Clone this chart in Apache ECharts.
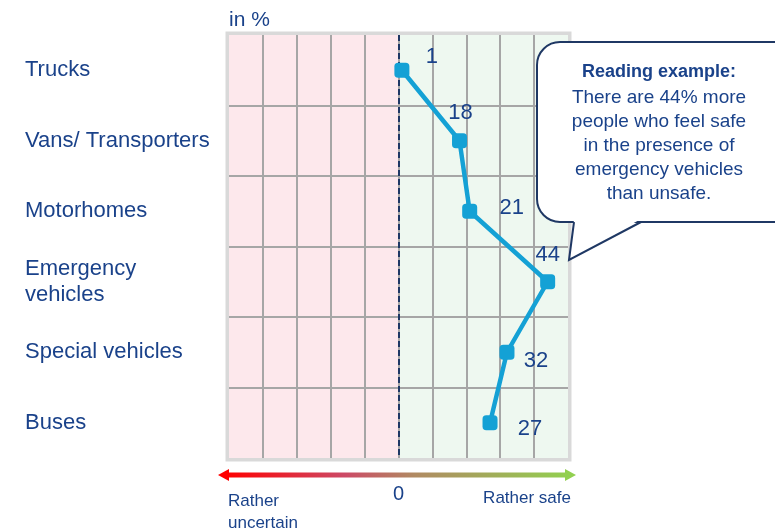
<!DOCTYPE html>
<html>
<head>
<meta charset="utf-8">
<script src="https://cdn.jsdelivr.net/npm/echarts@6/dist/echarts.min.js"></script>
<style>
  html, body { margin: 0; padding: 0; background: #fff; }
  #chart { width: 775px; height: 531px; }
</style>
</head>
<body>
<div id="chart"></div>
<script>
// vehicle types, top to bottom
const categories = ['Trucks', 'Vans/ Transporters', 'Motorhomes', 'Emergency\nvehicles', 'Special vehicles', 'Buses'];
// net share feeling safe, in %
const values = [1, 18, 21, 44, 32, 27];
// x axis range and step
const xMin = -50;
const xMax = 50;
const xStep = 10;
// where each value label sits relative to its marker
const labelOffsets = [[30, -13], [1, -28], [42, -3], [0, -27], [29, 9], [40, 6]];

const FONT = '"Liberation Sans", Arial, sans-serif';
const BLUE = '#1a428a';

const chart = echarts.init(document.getElementById('chart'));

const bubbleLines = [
  'There are 44% more',
  'people who feel safe',
  'in the presence of',
  'emergency vehicles',
  'than unsafe.'
];

chart.setOption({
  animation: false,
  backgroundColor: '#fff',
  textStyle: { fontFamily: FONT },
  title: {
    text: 'in %',
    left: 224,
    top: 5,
    textStyle: { fontFamily: FONT, fontSize: 21, fontWeight: 'normal', color: BLUE }
  },
  grid: {
    left: 229,
    right: 207,
    top: 35,
    bottom: 73,
    show: true,
    borderColor: '#d9d9d9',
    borderWidth: 7
  },
  xAxis: {
    type: 'value',
    min: xMin,
    max: xMax,
    interval: xStep,
    z: 0,
    axisLine: { show: false },
    axisTick: { show: false },
    axisLabel: {
      margin: 26,
      fontSize: 20,
      color: BLUE,
      fontFamily: FONT,
      formatter: v => (v === 0 ? '0' : '')
    },
    splitLine: {
      show: true,
      showMinLine: false,
      showMaxLine: false,
      lineStyle: { color: '#a6a6a6', width: 2 }
    },
    splitArea: {
      show: true,
      areaStyle: {
        color: ['#fde8ec', '#fde8ec', '#fde8ec', '#fde8ec', '#fde8ec',
                '#eef8f0', '#eef8f0', '#eef8f0', '#eef8f0', '#eef8f0']
      }
    }
  },
  yAxis: {
    type: 'category',
    inverse: true,
    data: categories,
    z: 1,
    axisLine: { show: false },
    axisTick: { show: false },
    axisLabel: {
      align: 'left',
      margin: 204,
      fontSize: 22,
      lineHeight: 26,
      color: BLUE,
      fontFamily: FONT
    },
    splitLine: {
      show: true,
      interval: 0,
      showMinLine: false,
      showMaxLine: false,
      lineStyle: { color: '#a6a6a6', width: 2 }
    }
  },
  series: [{
    type: 'line',
    data: values.map((v, i) => ({
      value: v,
      label: { offset: labelOffsets[i] }
    })),
    lineStyle: { color: '#14a1d5', width: 4.5 },
    itemStyle: { color: '#14a1d5' },
    symbol: 'roundRect',
    symbolSize: 15,
    z: 5,
    label: {
      show: true,
      position: 'inside',
      align: 'center',
      verticalAlign: 'middle',
      fontSize: 22,
      color: BLUE,
      fontFamily: FONT
    },
    markLine: {
      silent: true,
      symbol: 'none',
      label: { show: false },
      lineStyle: { color: '#1f3864', width: 2, type: [6, 3] },
      data: [{ xAxis: 0 }]
    }
  }],
  graphic: [
    // gradient arrow under the plot
    {
      type: 'line',
      shape: { x1: 226, y1: 475, x2: 568, y2: 475 },
      style: {
        lineWidth: 5,
        stroke: new echarts.graphic.LinearGradient(0, 0, 1, 0, [
          { offset: 0, color: '#ff0000' },
          { offset: 0.35, color: '#cc4a66' },
          { offset: 0.55, color: '#b08a62' },
          { offset: 1, color: '#92d050' }
        ])
      }
    },
    {
      type: 'polygon',
      shape: { points: [[218, 475], [229, 469], [229, 481]] },
      style: { fill: '#ff0000' }
    },
    {
      type: 'polygon',
      shape: { points: [[576, 475], [565, 469], [565, 481]] },
      style: { fill: '#92d050' }
    },
    {
      type: 'text',
      x: 228,
      y: 490,
      style: {
        text: 'Rather\nuncertain',
        font: '17px ' + FONT,
        lineHeight: 22,
        fill: BLUE
      }
    },
    {
      type: 'text',
      x: 571,
      y: 490,
      style: {
        text: 'Rather safe',
        font: '17px ' + FONT,
        fill: BLUE,
        align: 'right'
      }
    },
    // speech bubble
    {
      type: 'rect',
      z: 10,
      shape: { x: 537, y: 42, width: 270, height: 180, r: 23 },
      style: { fill: '#fff', stroke: '#1f3864', lineWidth: 2 }
    },
    {
      type: 'polygon',
      z: 11,
      shape: { points: [[574, 219], [641, 219], [570, 258]] },
      style: { fill: '#fff' }
    },
    {
      type: 'polyline',
      z: 12,
      shape: { points: [[574, 222], [569, 260], [641, 222]] },
      style: { stroke: '#1f3864', lineWidth: 2, fill: null }
    },
    {
      type: 'text',
      z: 12,
      x: 659,
      y: 72,
      style: {
        text: 'Reading example:',
        font: 'bold 18px ' + FONT,
        fill: BLUE,
        align: 'center',
        verticalAlign: 'middle'
      }
    },
    {
      type: 'text',
      z: 12,
      x: 659,
      y: 86,
      style: {
        text: bubbleLines.join('\n'),
        font: '19px ' + FONT,
        lineHeight: 24,
        fill: BLUE,
        align: 'center',
        verticalAlign: 'top'
      }
    }
  ]
});
</script>
</body>
</html>
